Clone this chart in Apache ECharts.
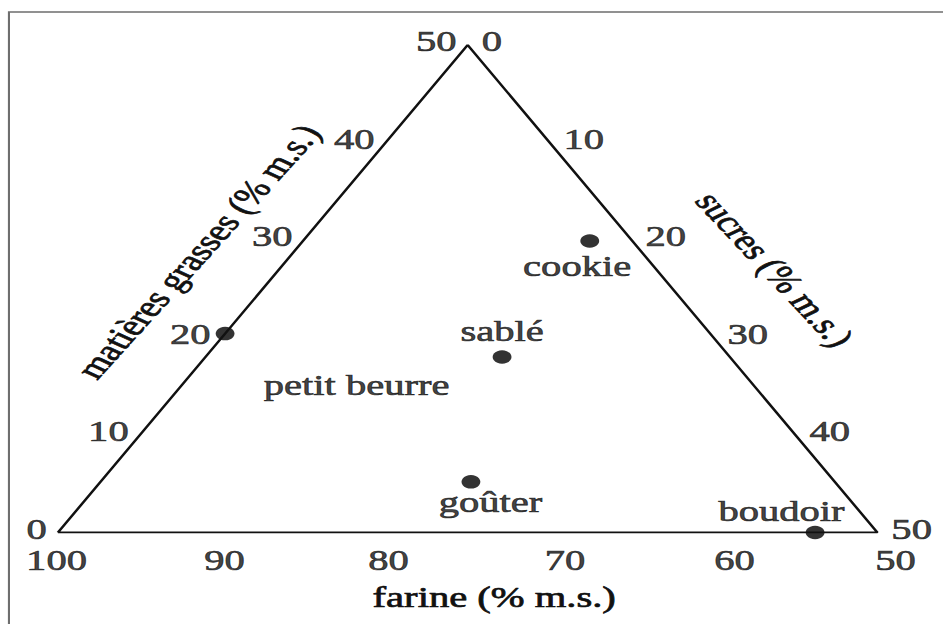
<!DOCTYPE html>
<html>
<head>
<meta charset="utf-8">
<script src="https://cdn.jsdelivr.net/npm/echarts@6/dist/echarts.min.js"></script>
<style>
    html, body { margin: 0; padding: 0; background: #fff; overflow: hidden; }
    /* la figure d'origine est étirée en largeur */
    #ternary { width: 684px; height: 624px; transform: scaleX(1.3991); transform-origin: 0 0; }
</style>
</head>
<body>
<div id="ternary"></div>
<script>
    var biscuits = ['petit beurre', 'sablé', 'cookie', 'goûter', 'boudoir'];
    var farine = [79.6, 63.9, 52.6, 72.2, 53.8];
    var matieresGrasses = [20.4, 18.0, 29.9, 5.2, 0];
    var sucres = [0, 18.1, 17.5, 22.6, 46.2];

    var farineTicks = [100, 90, 80, 70, 60, 50];
    var grassesTicks = [0, 10, 20, 30, 40, 50];
    var sucresTicks = [0, 10, 20, 30, 40, 50];

    // décalages des étiquettes (px, avant étirement)
    var farineLabelShift = [-1, 2, 2, 11, 15, 13];
    var labelOffset = {
        'petit beurre': [94, 52],
        'sablé': [0, -25],
        'cookie': [-9, 26],
        'goûter': [14, 21],
        'boudoir': [-24, -21]
    };

    var FONT = 'Liberation Serif';
    var INK = '#111';
    var textStyle = {
        color: INK,
        fontFamily: FONT,
        fontSize: 29,
        textBorderColor: INK,
        textBorderWidth: 0.7
    };

    // farine + matières grasses + sucres = 100 -> plan (x, y)
    function toXY(f, mg, s) {
        return [s + mg / 2, mg];
    }

    function tickSeries(ticks, toPoint, position, distance, offsets) {
        return {
            type: 'scatter',
            symbolSize: 0,
            silent: true,
            clip: false,
            data: ticks.map(function (v, i) {
                return {name: String(v), value: toPoint(v), label: {offset: offsets(i)}};
            }),
            label: Object.assign({
                show: true,
                formatter: '{b}',
                position: position,
                distance: distance
            }, textStyle)
        };
    }

    var chart = echarts.init(document.getElementById('ternary'), null, {renderer: 'svg'});

    var option = {
        animation: false,
        backgroundColor: '#fff',
        grid: {left: 41.4, right: 56.9, top: 45, bottom: 91.5},
        xAxis: {type: 'value', min: 0, max: 50, show: false},
        yAxis: {type: 'value', min: 0, max: 50, show: false},
        series: [
            {
                type: 'line',
                silent: true,
                symbol: 'none',
                data: [toXY(100, 0, 0), toXY(50, 0, 50), toXY(50, 50, 0), toXY(100, 0, 0)],
                lineStyle: {color: INK, width: 2}
            },
            tickSeries(grassesTicks, function (v) { return toXY(100 - v, v, 0); }, 'left', 8,
                function () { return [0, -3]; }),
            tickSeries(sucresTicks, function (v) { return toXY(50, 50 - v, v); }, 'right', 10,
                function () { return [0, -3]; }),
            tickSeries(farineTicks, function (v) { return toXY(v, 0, 100 - v); }, 'bottom', 14,
                function (i) { return [farineLabelShift[i], 0]; }),
            {
                type: 'scatter',
                clip: false,
                symbolSize: 13.5,
                itemStyle: {color: '#000'},
                data: biscuits.map(function (name, i) {
                    return {
                        name: name,
                        value: toXY(farine[i], matieresGrasses[i], sucres[i]),
                        label: {offset: labelOffset[name]}
                    };
                }),
                label: Object.assign({
                    show: true,
                    formatter: '{b}',
                    position: 'inside'
                }, textStyle)
            }
        ]
    };
    chart.setOption(option);

    // titres des trois axes, le long des côtés
    function axisTitle(text, xy, dx, dy, deg) {
        var p = chart.convertToPixel({gridIndex: 0}, xy);
        return {
            type: 'text',
            x: p[0] + dx,
            y: p[1] + dy,
            rotation: deg * Math.PI / 180,
            silent: true,
            style: {
                text: text,
                fill: INK,
                stroke: INK,
                lineWidth: 0.7,
                font: '29px "' + FONT + '"',
                align: 'center',
                verticalAlign: 'middle'
            }
        };
    }

    chart.setOption({
        graphic: [
            {
                type: 'polyline',
                silent: true,
                z: -1,
                shape: {points: [[6.4, 700], [6.4, 12], [700, 12]]},
                style: {fill: null, stroke: '#6e6e6e', lineWidth: 1.5}
            },
            axisTitle('matières grasses (% m.s.)', toXY(75, 25, 0), -46, -37, 57),
            axisTitle('sucres (% m.s.)', toXY(50, 25, 25), 73, -19, -56),
            axisTitle('farine (% m.s.)', toXY(75, 0, 25), 19, 65, 0)
        ]
    });
</script>
</body>
</html>
